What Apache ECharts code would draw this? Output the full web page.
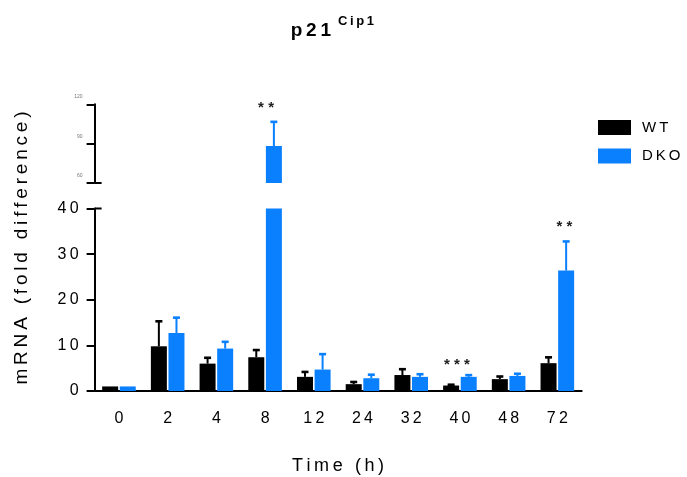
<!DOCTYPE html>
<html>
<head>
<meta charset="utf-8">
<script src="https://cdn.jsdelivr.net/npm/echarts@6/dist/echarts.min.js"></script>
<style>
  html, body { margin: 0; padding: 0; background: #fff; }
  #chart { width: 687px; height: 477px; }
</style>
</head>
<body>
<div id="chart"></div>
<script>
// p21 Cip1 mRNA, fold difference over time (mean + SEM)
const timePoints = ['0', '2', '4', '8', '12', '24', '32', '40', '48', '72'];
const wtMean  = [1.0, 9.8, 6.0, 7.4, 3.1, 1.5, 3.5, 1.2, 2.6, 6.1];
const wtSem   = [0, 5.5, 1.3, 1.6, 1.1, 0.5, 1.3, 0.2, 0.6, 1.3];
const dkoMean = [1.0, 12.7, 9.3, 88.2, 4.7, 2.8, 3.1, 3.1, 3.3, 26.4];
const dkoSem  = [0, 3.4, 1.5, 18.5, 3.4, 0.8, 0.6, 0.4, 0.5, 6.4];
const lowerTicks = [0, 10, 20, 30, 40];
const upperTicks = [60, 90, 120];
const sigTime   = ['8', '40', '72'];
const sigMark   = ['**', '***', '**'];
const sigHeight = [119, 6.1, 36.5];

const FONT = "'Liberation Sans', Arial, sans-serif";
const WT_COLOR = '#000000';
const DKO_COLOR = '#0a80ff';
const spaced = s => String(s).split('').join('\u2009');

const lowerMax = lowerTicks[lowerTicks.length - 1];
const upperMin = upperTicks[0];

const gridLeft = 94.6, gridRight = 105.3;
const barWidth = 16, barGapPx = 1.6;
const sideOffset = (barWidth + barGapPx) / 2;
// horizontal nudge of each significance mark, in pixels
const starNudge = { '8': 1, '40': -3, '72': 7 };

// error bar items: [category index, mean, sem, side]
function errItems(filter) {
  const out = [];
  [[wtMean, wtSem, -1], [dkoMean, dkoSem, 1]].forEach(([m, s, side]) => {
    m.forEach((v, i) => { if (s[i] > 0 && filter(v)) out.push([i, v, s[i], side]); });
  });
  return out;
}

function renderErr(params, api) {
  const i = api.value(0), mean = api.value(1), sem = api.value(2), side = api.value(3);
  const base = api.coord([i, mean]);
  const top = api.coord([i, mean + sem]);
  const x = base[0] + side * sideOffset;
  const color = side < 0 ? WT_COLOR : DKO_COLOR;
  return {
    type: 'group',
    children: [
      { type: 'line', shape: { x1: x, y1: base[1], x2: x, y2: top[1] },
        style: { stroke: color, lineWidth: 2 } },
      { type: 'rect', shape: { x: x - 3.5, y: top[1] - 1.2, width: 7, height: 2.6 },
        style: { fill: color } }
    ]
  };
}

function starItems(filter) {
  const out = [];
  sigTime.forEach((t, k) => {
    if (filter(sigHeight[k])) out.push([timePoints.indexOf(t), sigHeight[k], sigMark[k]]);
  });
  return out;
}

const starData = {
  upper: starItems(v => v > lowerMax),
  lower: starItems(v => v <= lowerMax)
};

function makeStarRenderer(items) {
  return function (params, api) {
    const p = api.coord([api.value(0), api.value(1)]);
    const item = items[params.dataIndex];
    const nudge = starNudge[timePoints[item[0]]] || 0;
    return {
      type: 'text',
      style: {
        x: p[0] + nudge, y: p[1] + 2, text: item[2].split('').join('\u2009\u200a'),
        fill: '#222', font: 'bold 15px ' + FONT,
        align: 'center', verticalAlign: 'middle'
      }
    };
  };
}

const axisLineStyle = { color: '#000', width: 2 };

const chart = echarts.init(document.getElementById('chart'), null, { renderer: 'canvas' });

const option = {
  animation: false,
  backgroundColor: '#fff',
  textStyle: { fontFamily: FONT },
  grid: [
    { left: gridLeft, right: gridRight, top: 104.3, height: 78.7 },
    { left: gridLeft, right: gridRight, top: 208.5, height: 182.5 }
  ],
  legend: {
    data: ['WT', 'DKO'],
    orient: 'vertical',
    left: 593, top: 115,
    itemWidth: 33, itemHeight: 15, itemGap: 13.5,
    icon: 'rect',
    formatter: name => spaced(name),
    textStyle: { fontSize: 15, color: '#000', fontFamily: FONT, padding: [0, 0, 0, 6] }
  },
  xAxis: [
    { gridIndex: 0, type: 'category', data: timePoints, show: false },
    {
      gridIndex: 1, type: 'category', data: timePoints,
      axisLine: { lineStyle: axisLineStyle },
      axisTick: { alignWithLabel: true, length: 8, lineStyle: axisLineStyle },
      axisLabel: { fontSize: 16, color: '#000', margin: 20, fontFamily: FONT, formatter: v => spaced(v) }
    }
  ],
  yAxis: [
    {
      gridIndex: 0, type: 'value',
      min: upperMin, max: upperTicks[upperTicks.length - 1], interval: upperTicks[1] - upperTicks[0],
      axisLine: { show: true, lineStyle: axisLineStyle },
      axisTick: { show: true, length: 8, lineStyle: axisLineStyle },
      splitLine: { show: false },
      axisLabel: { fontSize: 5, color: '#777', margin: 12, verticalAlign: 'bottom', padding: [0, 0, 5, 0] }
    },
    {
      gridIndex: 1, type: 'value',
      min: lowerTicks[0], max: lowerMax, interval: lowerTicks[1] - lowerTicks[0],
      axisLine: { show: true, lineStyle: axisLineStyle },
      axisTick: { show: true, length: 8, lineStyle: axisLineStyle },
      splitLine: { show: false },
      axisLabel: { fontSize: 16, color: '#000', margin: 16, fontFamily: FONT, formatter: v => spaced(v) }
    }
  ],
  series: [
    { name: 'WT', type: 'bar', xAxisIndex: 1, yAxisIndex: 1, data: wtMean,
      barWidth: barWidth, barGap: '10%', clip: true, itemStyle: { color: WT_COLOR } },
    { name: 'DKO', type: 'bar', xAxisIndex: 1, yAxisIndex: 1, data: dkoMean,
      barWidth: barWidth, barGap: '10%', clip: true, itemStyle: { color: DKO_COLOR } },
    { name: 'WT', type: 'bar', xAxisIndex: 0, yAxisIndex: 0,
      data: wtMean.map(v => v > lowerMax ? v : '-'),
      barWidth: barWidth, barGap: '10%', clip: true, itemStyle: { color: WT_COLOR } },
    { name: 'DKO', type: 'bar', xAxisIndex: 0, yAxisIndex: 0,
      data: dkoMean.map(v => v > lowerMax ? v : '-'),
      barWidth: barWidth, barGap: '10%', clip: true, itemStyle: { color: DKO_COLOR } },
    { type: 'custom', xAxisIndex: 1, yAxisIndex: 1, renderItem: renderErr,
      data: errItems(v => v <= lowerMax), encode: { x: 0, y: 1 }, z: 3 },
    { type: 'custom', xAxisIndex: 0, yAxisIndex: 0, renderItem: renderErr,
      data: errItems(v => v > lowerMax), encode: { x: 0, y: 1 }, z: 3 },
    { type: 'custom', xAxisIndex: 0, yAxisIndex: 0, renderItem: makeStarRenderer(starData.upper),
      data: starData.upper, encode: { x: 0, y: 1 }, z: 4 },
    { type: 'custom', xAxisIndex: 1, yAxisIndex: 1, renderItem: makeStarRenderer(starData.lower),
      data: starData.lower, encode: { x: 0, y: 1 }, z: 4 }
  ]
};

chart.setOption(option);

// Axis-break caps, chart title and axis names
const capLower = chart.convertToPixel({ yAxisIndex: 1 }, lowerMax);
const capUpper = chart.convertToPixel({ yAxisIndex: 0 }, upperMin);
chart.setOption({
  graphic: [
    { type: 'line', shape: { x1: gridLeft, y1: capLower, x2: gridLeft + 7, y2: capLower },
      style: { stroke: '#000', lineWidth: 2 } },
    { type: 'line', shape: { x1: gridLeft, y1: capUpper, x2: gridLeft + 7, y2: capUpper },
      style: { stroke: '#000', lineWidth: 2 } },
    { type: 'text', x: 331, y: 31,
      style: { text: spaced('p21'), font: 'bold 19px ' + FONT, fill: '#000', align: 'right', verticalAlign: 'middle' } },
    { type: 'text', x: 338, y: 21,
      style: { text: spaced('Cip1'), font: 'bold 13px ' + FONT, fill: '#000', align: 'left', verticalAlign: 'middle' } },
    { type: 'text', x: 22, y: 248, rotation: Math.PI / 2,
      style: { text: spaced('mRNA (fold difference)'), font: '19px ' + FONT, fill: '#000', align: 'center', verticalAlign: 'middle' } },
    { type: 'text', x: 338, y: 466,
      style: { text: spaced('Time (h)'), font: '18px ' + FONT, fill: '#000', align: 'center', verticalAlign: 'middle' } }
  ]
});
</script>
</body>
</html>
